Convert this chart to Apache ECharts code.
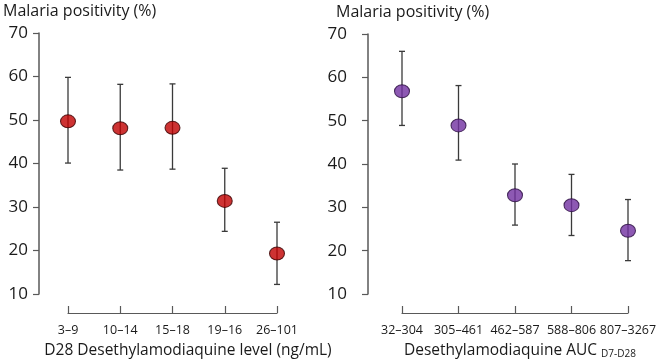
<!DOCTYPE html>
<html>
<head>
<meta charset="utf-8">
<script src="https://cdn.jsdelivr.net/npm/echarts@6/dist/echarts.min.js"></script>
<style>
  html, body { margin: 0; padding: 0; background: #fff; }
  #chart { width: 661px; height: 364px; }
</style>
</head>
<body>
<div id="chart"></div>
<script>
// left panel: D28 desethylamodiaquine level
const levelCategories = ['3–9', '10–14', '15–18', '19–16', '26–101']
const levelMean = [49.7, 48.1, 48.2, 31.4, 19.3]
const levelLow = [40.1, 38.5, 38.7, 24.4, 12.2]
const levelHigh = [59.8, 58.2, 58.3, 38.9, 26.5]

// right panel: desethylamodiaquine AUC D7-D28
const aucCategories = ['32–304', '305–461', '462–587', '588–806', '807–3267']
const aucMean = [56.8, 48.9, 32.8, 30.5, 24.6]
const aucLow = [48.9, 40.9, 25.9, 23.5, 17.7]
const aucHigh = [66.0, 58.1, 40.0, 37.6, 31.8]

const yTicks = [10, 20, 30, 40, 50, 60, 70]

const font = '"Open Sans", sans-serif'
const textColor = '#1a1a1a'
const axisColor = '#595959'

const chart = echarts.init(document.getElementById('chart'))

function errorBars(low, high, idx) {
  return {
    type: 'custom',
    xAxisIndex: idx,
    yAxisIndex: idx,
    data: low.map((v, i) => [i, v, high[i]]),
    z: 1,
    renderItem: function (params, api) {
      const lo = api.coord([api.value(0), api.value(1)])
      const hi = api.coord([api.value(0), api.value(2)])
      const w = 3
      const style = { stroke: '#3a3a3a', lineWidth: 1.3 }
      return {
        type: 'group',
        children: [
          { type: 'line', shape: { x1: lo[0], y1: lo[1], x2: hi[0], y2: hi[1] }, style },
          { type: 'line', shape: { x1: lo[0] - w, y1: lo[1], x2: lo[0] + w, y2: lo[1] }, style },
          { type: 'line', shape: { x1: hi[0] - w, y1: hi[1], x2: hi[0] + w, y2: hi[1] }, style }
        ]
      }
    }
  }
}

function yAxisFor(idx, offset, margin) {
  return {
    type: 'value',
    gridIndex: idx,
    min: yTicks[0],
    max: yTicks[yTicks.length - 1],
    interval: 10,
    offset: offset,
    splitLine: { show: false },
    axisLine: { show: true, lineStyle: { color: axisColor, width: 1.5 } },
    axisTick: { show: true, length: 6, lineStyle: { color: axisColor, width: 1.2 } },
    axisLabel: { color: textColor, fontSize: 17, fontFamily: font, margin: margin }
  }
}

function xAxisFor(idx, cats, name, pad) {
  return {
    type: 'category',
    gridIndex: idx,
    data: cats,
    boundaryGap: false,
    offset: 19,
    axisLine: { show: true, lineStyle: { color: axisColor, width: 1.2 } },
    axisTick: { show: true, inside: true, length: 7, alignWithLabel: true, lineStyle: { color: axisColor, width: 1.2 } },
    axisLabel: { color: textColor, fontSize: 12.5, fontFamily: font, margin: 11, interval: 0 },
    name: name,
    nameLocation: 'middle',
    nameGap: 30,
    nameTextStyle: { color: textColor, fontSize: 15.5, fontFamily: font, padding: pad, rich: {
      sub: { fontSize: 10, fontFamily: font, color: textColor, verticalAlign: 'bottom', padding: [6, 0, 0, 0] }
    } }
  }
}

chart.setOption({
  animation: false,
  backgroundColor: '#fff',
  title: [
    { text: 'Malaria positivity (%)', left: -2, top: -2, textStyle: { color: textColor, fontSize: 16, fontWeight: 'normal', fontFamily: font } },
    { text: 'Malaria positivity (%)', left: 331, top: -1, textStyle: { color: textColor, fontSize: 16, fontWeight: 'normal', fontFamily: font } }
  ],
  grid: [
    { left: 68, top: 33, width: 209, height: 261 },
    { left: 402, top: 34, width: 226, height: 262 }
  ],
  xAxis: [
    xAxisFor(0, levelCategories, 'D28 Desethylamodiaquine level (ng/mL)', [0, 0, 0, 31]),
    xAxisFor(1, aucCategories, 'Desethylamodiaquine AUC {sub|D7-D28}', [0, 0, 0, 10])
  ],
  yAxis: [
    yAxisFor(0, 29, 11),
    yAxisFor(1, 34, 21)
  ],
  series: [
    errorBars(levelLow, levelHigh, 0),
    {
      type: 'scatter',
      xAxisIndex: 0,
      yAxisIndex: 0,
      data: levelMean,
      symbol: 'circle',
      symbolSize: [15, 13],
      z: 3,
      itemStyle: { color: '#c00000', borderColor: '#3a0000', borderWidth: 1 }
    },
    errorBars(aucLow, aucHigh, 1),
    {
      type: 'scatter',
      xAxisIndex: 1,
      yAxisIndex: 1,
      data: aucMean,
      symbol: 'circle',
      symbolSize: [15, 13],
      z: 3,
      itemStyle: { color: '#7030a0', borderColor: '#2a0e40', borderWidth: 1 }
    }
  ]
})
</script>
</body>
</html>
